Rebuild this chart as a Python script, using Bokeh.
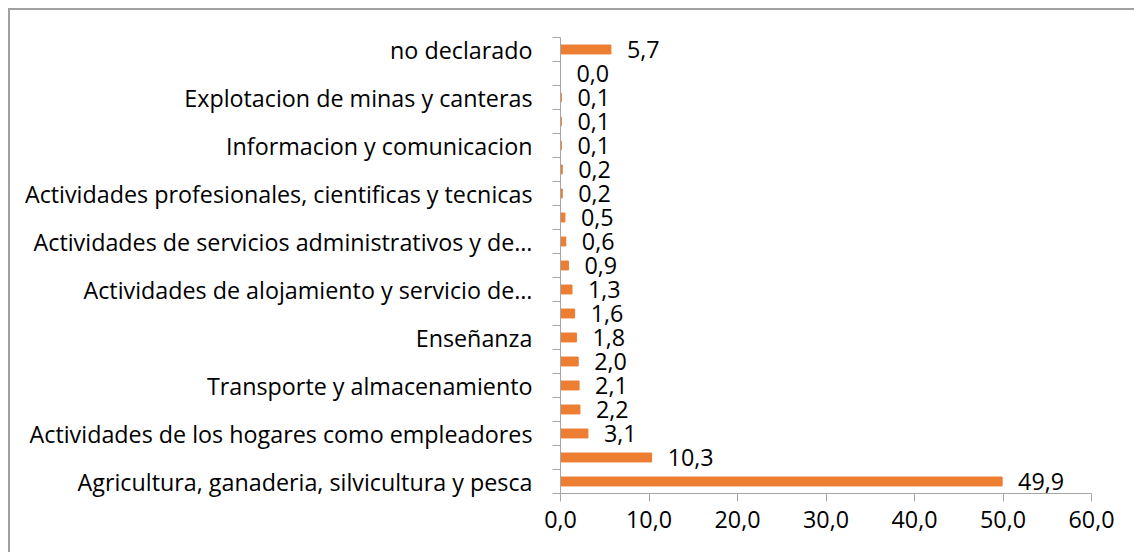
from bokeh.plotting import figure
from bokeh.models import Range1d, FixedTicker, ColumnDataSource
from bokeh.core.properties import value
from bokeh.embed import file_html
from bokeh.resources import INLINE

# bottom to top (Excel shows every second category label)
categories = [
    "Agricultura, ganaderia, silvicultura y pesca",
    "",
    "Actividades de los hogares como empleadores",
    "",
    "Transporte y almacenamiento",
    "",
    "Enseñanza",
    "",
    "Actividades de alojamiento y servicio de…",
    "",
    "Actividades de servicios administrativos y de…",
    "",
    "Actividades profesionales, cientificas y tecnicas",
    "",
    "Informacion y comunicacion",
    "",
    "Explotacion de minas y canteras",
    "",
    "no declarado",
]
values = [49.9, 10.3, 3.1, 2.2, 2.1, 2.0, 1.8, 1.6, 1.3, 0.9, 0.6, 0.5, 0.2, 0.2, 0.1, 0.1, 0.1, 0.0, 5.7]
x_ticks = [0, 10, 20, 30, 40, 50, 60]
x_tick_labels = ["0,0", "10,0", "20,0", "30,0", "40,0", "50,0", "60,0"]

FONT = "Open Sans"
FSIZE = "23.3px"
AXIS_COLOR = "#a6a6a6"

pos = list(range(len(categories)))
src = ColumnDataSource(dict(
    y=pos, v=values,
    lbl=[f"{v:.1f}".replace(".", ",") for v in values],
))

p = figure(width=1126, height=544, output_backend="svg", toolbar_location=None,
           x_range=Range1d(0, 60), y_range=Range1d(-0.5, len(categories) - 0.5),
           min_border_left=550, min_border_right=45, min_border_top=27, min_border_bottom=61)
p.styles = {"margin": "8px 0 0 8px",
            "border-left": "2px solid #a0a0a0", "border-top": "2px solid #a0a0a0",
            "box-sizing": "border-box"}
p.outline_line_color = None
p.xgrid.visible = False
p.ygrid.visible = False
p.background_fill_color = "white"
p.border_fill_color = "white"

p.hbar(y="y", right="v", left=0, height=0.37, source=src, color="#ED7D31")
p.text(x="v", y="y", text="lbl", source=src, x_offset=16, text_baseline="middle",
       text_align="left", text_font=value(FONT), text_font_size=FSIZE, text_color="black")

# x axis
xa = p.xaxis[0]
xa.ticker = FixedTicker(ticks=x_ticks)
xa.major_label_overrides = {t: l for t, l in zip(x_ticks, x_tick_labels)}
xa.axis_line_color = AXIS_COLOR
xa.major_tick_line_color = AXIS_COLOR
xa.major_tick_out = 8
xa.major_tick_in = 0
xa.minor_tick_line_color = None
xa.major_label_text_font = FONT
xa.major_label_text_font_size = FSIZE
xa.major_label_text_color = "black"
xa.major_label_standoff = 9

# y axis
ya = p.yaxis[0]
label_pos = [i for i, c in enumerate(categories) if c]
ya.ticker = FixedTicker(ticks=label_pos, minor_ticks=[i - 0.5 for i in range(len(categories) + 1)])
ya.major_label_overrides = {i: categories[i] for i in label_pos}
ya.axis_line_color = AXIS_COLOR
ya.major_tick_line_color = None
ya.major_tick_out = 0
ya.major_tick_in = 0
ya.minor_tick_line_color = AXIS_COLOR
ya.minor_tick_out = 8
ya.minor_tick_in = 0
ya.major_label_text_font = FONT
ya.major_label_text_font_size = FSIZE
ya.major_label_text_color = "black"
ya.major_label_standoff = 20

open("out.html", "w").write(file_html(p, INLINE))
